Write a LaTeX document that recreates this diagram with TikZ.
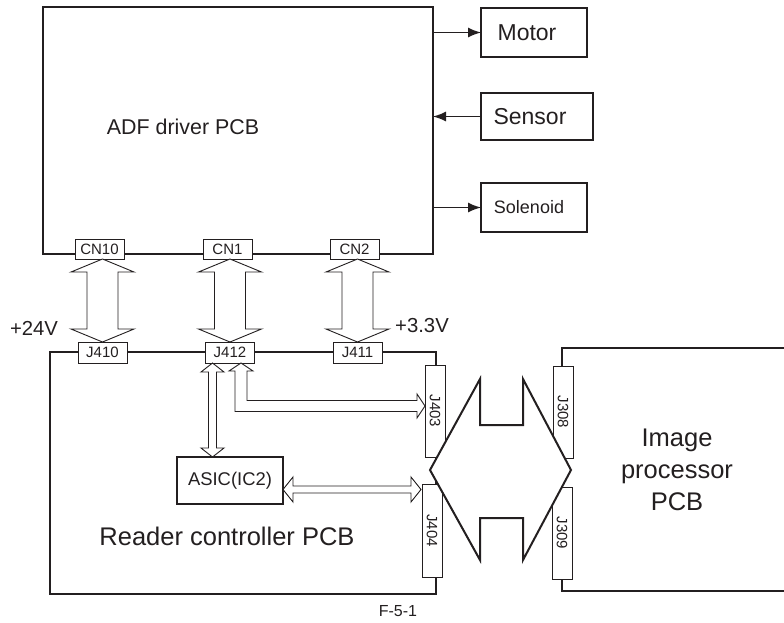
\documentclass[tikz,border=0pt]{standalone}
\usepackage{fontspec}
\setmainfont{Liberation Sans}
\usetikzlibrary{arrows.meta,calc}
\definecolor{ink}{HTML}{231F20}
\newcommand\vdarrow[2]{%
  \draw[hollow] let \p1=(#1.south), \p2=(#2.north) in
    (\x2,\y1) -- (\x2+31.5pt,\y1-13pt) -- (\x2+15.5pt,\y1-13pt) -- (\x2+15.5pt,\y2+13pt)
    -- (\x2+31.5pt,\y2+13pt) -- (\x2,\y2) -- (\x2-31.5pt,\y2+13pt) -- (\x2-15.5pt,\y2+13pt)
    -- (\x2-15.5pt,\y1-13pt) -- (\x2-31.5pt,\y1-13pt) -- cycle;}
\begin{document}
\begin{tikzpicture}[x=1pt,y=-1pt,
  every node/.style={text=ink},
  pcb/.style={draw=ink, line width=2pt, inner sep=0pt, outer sep=0pt},
  dev/.style={draw=ink, line width=1.6pt, inner sep=0pt, outer sep=0pt},
  conn/.style={draw=ink, fill=white, line width=0.9pt, inner sep=0pt, outer sep=0pt,
    font=\fontsize{15}{17}\selectfont},
  hconn/.style={conn, minimum width=49pt, minimum height=20pt},
  vconn/.style={conn, minimum width=20pt, minimum height=92pt},
  hollow/.style={draw=ink, fill=white, line width=0.9pt, line join=miter},
  sig/.style={draw=ink, line width=1.4pt, -{Latex[length=13pt,width=10pt]}},
  lbl/.style={inner sep=0pt, font=\fontsize{21}{25}\selectfont}]
\useasboundingbox (0,0) rectangle (784,622);

% main boards
\node[pcb, minimum width=390pt, minimum height=247pt] (adf) at (238,130.5) {};
\node[pcb, minimum width=386pt, minimum height=242pt] (rdr) at (243,473) {};
\node[inner sep=0pt, outer sep=0pt, minimum width=222pt, minimum height=243pt] (ipc) at (673,469.5) {};
\draw[ink, line width=2pt] (ipc.north east) -- (ipc.north west) -- (ipc.south west) -- (ipc.south east);

\node[lbl, font=\fontsize{21.4}{25}\selectfont] (adft) at (183,127) {ADF driver PCB};
\node[lbl, font=\fontsize{25.5}{30}\selectfont] (rdrt) at (227,536) {Reader controller PCB};
\node[lbl, align=center, font=\fontsize{25.5}{32}\selectfont] (ipct) at (677,470) {Image\\processor\\PCB};

% devices
\node[dev, minimum width=106pt, minimum height=49pt, font=\fontsize{23}{27}\selectfont] (motor) at (534,32.5) {Motor\hspace*{14pt}};
\node[dev, minimum width=112pt, minimum height=47pt, font=\fontsize{23}{27}\selectfont] (sensor) at (537,116.5) {Sensor\hspace*{14pt}};
\node[dev, minimum width=106pt, minimum height=49pt, font=\fontsize{18}{21}\selectfont] (sol) at (534,207.5) {Solenoid\hspace*{10pt}};
\draw[sig] (motor.west -| adf.east) -- (motor.west);
\draw[sig] (sensor.west) -- (sensor.west -| adf.east);
\draw[sig] (sol.west -| adf.east) -- (sol.west);

% ASIC
\node[dev, line width=2pt, minimum width=106pt, minimum height=47pt, font=\fontsize{18.4}{21}\selectfont] (asic) at (230,480.5) {ASIC(IC2)};

% connectors
\node[hconn] (cn10) at (99.5,249) {CN10};
\node[hconn] (cn1) at (227.5,249) {CN1};
\node[hconn] (cn2) at (354.5,249) {CN2};
\node[hconn, minimum height=21pt] (j410) at (102.5,352.5) {J410};
\node[hconn, minimum height=21pt] (j412) at (230,352.5) {J412};
\node[hconn, minimum height=21pt] (j411) at (357.5,352.5) {J411};
\node[vconn] (j403) at (435,411) {\rotatebox{-90}{J403}};
\node[vconn, minimum height=93pt] (j404) at (432,530.5) {\rotatebox{-90}{J404}};
\node[vconn] (j308) at (563,412) {\rotatebox{-90}{J308}};
\node[vconn] (j309) at (562,533) {\rotatebox{-90}{J309}};

% power labels
\node[lbl, font=\fontsize{20.3}{24}\selectfont] (v24) at (34,328) {+24V};
\node[lbl, font=\fontsize{20.3}{24}\selectfont] (v33) at (422,326) {+3.3V};

% board-to-board arrows
\vdarrow{cn10}{j410}
\vdarrow{cn1}{j412}
\vdarrow{cn2}{j411}

% J412 -> ASIC
\draw[hollow] let \p1=($(j412.south)+(-17.5,0)$), \p2=(asic.north) in
  (\x1,\y1) -- (\x1+11.5pt,\y1-9pt) -- (\x1+4pt,\y1-9pt) -- (\x1+4pt,\y2+9pt)
  -- (\x1+11.5pt,\y2+9pt) -- (\x1,\y2) -- (\x1-11.5pt,\y2+9pt) -- (\x1-4pt,\y2+9pt)
  -- (\x1-4pt,\y1-9pt) -- (\x1-11.5pt,\y1-9pt) -- cycle;

% J412 -> J403 (L-shaped)
\draw[hollow] let \p1=($(j412.south)+(11,0)$), \p2=($(j403.west)+(0,-5)$) in
  (\x1,\y1) -- (\x1+12pt,\y1-8pt) -- (\x1+6pt,\y1-8pt) -- (\x1+6pt,\y2+5.5pt)
  -- (\x2-8pt,\y2+5.5pt) -- (\x2-8pt,\y2+12pt) -- (\x2,\y2) -- (\x2-8pt,\y2-12pt)
  -- (\x2-8pt,\y2-5.5pt) -- (\x1-6pt,\y2-5.5pt) -- (\x1-6pt,\y1-8pt) -- (\x1-12pt,\y1-8pt) -- cycle;

% ASIC <-> J404
\draw[hollow] let \p1=($(asic.east)+(0,9)$), \p2=($(j404.west)+(-1,0)$) in
  (\x1,\y1) -- (\x1+10pt,\y1+12.5pt) -- (\x1+10pt,\y1+3.5pt) -- (\x2-10pt,\y1+3.5pt)
  -- (\x2-10pt,\y1+12.5pt) -- (\x2,\y1) -- (\x2-10pt,\y1-12.5pt) -- (\x2-10pt,\y1-3.5pt)
  -- (\x1+10pt,\y1-3.5pt) -- (\x1+10pt,\y1-12.5pt) -- cycle;

% big bus arrow between reader and image processor
\coordinate (bl) at (430,470);
\coordinate (br) at (571,470);
\draw[draw=ink, fill=white, line width=2pt, line join=miter]
  (bl) -- (480,379) -- (480,425) -- (523,425) -- (523,379) -- (br)
  -- (523,560) -- (523,518) -- (480,518) -- (480,560) -- cycle;

% figure number
\node[lbl, font=\fontsize{16}{19}\selectfont] (fig) at (398,611) {F-5-1};
\end{tikzpicture}
\end{document}
